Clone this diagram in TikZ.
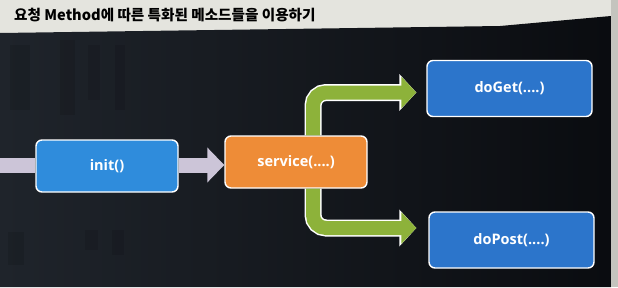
\documentclass[tikz,border=0pt]{standalone}
\usepackage{fontspec}
\setmainfont{Open Sans}
\newfontfamily\kr{Noto Sans CJK KR}
\usetikzlibrary{arrows.meta,calc}
\definecolor{topband}{HTML}{E4E4DE}
\definecolor{bgL}{HTML}{1F242B}
\definecolor{bgR}{HTML}{0A0C10}
\definecolor{bezel}{HTML}{C4C4BE}
\definecolor{initblue}{HTML}{2F8CDC}
\definecolor{methblue}{HTML}{2C75CB}
\definecolor{svcorange}{HTML}{EE8C37}
\definecolor{arrgreen}{HTML}{8DB23A}
\definecolor{arrgray}{HTML}{CCC5D8}
\begin{document}
\begin{tikzpicture}[x=1pt,y=-1pt,
  box/.style={draw=white,line width=1.4pt,rounded corners=6pt,minimum width=142pt,
    minimum height=52pt,text=white,inner sep=0pt,
    font=\bfseries\fontsize{14.5}{17}\selectfont},
  mbox/.style={box,fill=methblue,minimum width=165pt,minimum height=56pt},
  blur/.style={black,opacity=0.1},
  grayband/.style={draw=arrgray,line width=15pt},
  grayarrow/.style={grayband,-{Triangle[length=17pt,width=34pt]}},
  greenout/.style={draw=white,line width=17pt,rounded corners=13pt,
    -{Triangle[length=17pt,width=36pt]}},
  greenin/.style={draw=arrgreen,line width=14pt,rounded corners=13pt,
    -{Triangle[length=15pt,width=31pt]}}]
\useasboundingbox (0,0) rectangle (618,287);
% background
\fill[topband] (0,0) rectangle (618,287);
\shade[left color=bgL,right color=bgR] (0,33) -- (500,26) -- (611,16) -- (611,287) -- (0,287) -- cycle;
\fill[blur] (10,45) rectangle (30,110);
\fill[blur] (60,40) rectangle (75,115);
\fill[blur] (88,45) rectangle (100,100);
\fill[blur] (115,45) rectangle (125,110);
\fill[blur] (8,232) rectangle (24,265);
\fill[blur] (85,230) rectangle (98,250);
\fill[blur] (112,230) rectangle (124,255);
\fill[bezel] (611,0) rectangle (618,287);
% title
\node[anchor=base west,inner sep=0pt,font=\kr\bfseries\fontsize{14.6}{17}\selectfont,text=black]
  (title) at (14,20) {요청 Method에 따른 특화된 메소드들을 이용하기};
% nodes
\node[box,fill=initblue] (init) at (107,166) {init()};
\node[box,fill=svcorange] (svc) at (296,162) {service(....)};
\node[mbox] (get) at (509.5,88.5) {doGet(....)};
\node[mbox] (post) at (511.5,240) {doPost(....)};
\coordinate (start) at (0,165);
% connectors
\draw[grayband] (start) -- (init.west |- start);
\draw[grayarrow] (init.east |- start) -- (svc.west |- start);
\draw[greenout] ([xshift=17pt]svc.north) |- ([xshift=-10pt,yshift=-4pt]get.west);
\draw[greenin] ([xshift=17pt]svc.north) |- ([xshift=-10pt,yshift=-4pt]get.west);
\draw[greenout] ([xshift=17pt]svc.south) |- ([xshift=-12pt,yshift=12pt]post.west);
\draw[greenin] ([xshift=17pt]svc.south) |- ([xshift=-12pt,yshift=12pt]post.west);
\end{tikzpicture}
\end{document}
